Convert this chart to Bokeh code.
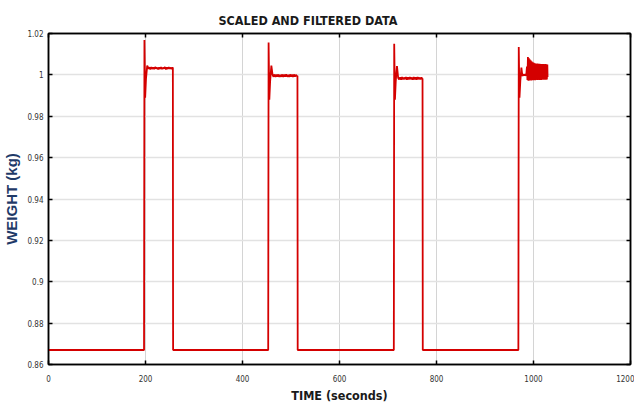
from bokeh.plotting import figure
from bokeh.models import (LinearAxis, FixedTicker, CustomJSTickFormatter, Range1d, Title)
from bokeh.embed import file_html
from bokeh.resources import INLINE

# ---------------- data ----------------
x_ticks = [0, 200, 400, 600, 800, 1000, 1200]
y_ticks = [0.86, 0.88, 0.90, 0.92, 0.94, 0.96, 0.98, 1.00, 1.02]

baseline_t = [0.0]
baseline_w = [0.867]

pulse1_t = [197.0, 197.8, 199.3, 201.0, 203.5, 206, 208, 210, 212, 214, 216, 218, 220, 222,
            224, 226, 228, 230, 232, 234, 236, 238, 240, 242, 244, 246, 248, 250, 252, 254,
            255.5, 256.4, 256.9]
pulse1_w = [0.867, 1.0168, 0.989, 0.998, 1.0045, 1.0030, 1.0036, 1.0027, 1.0037, 1.0029,
            1.0036, 1.0028, 1.0038, 1.0030, 1.0035, 1.0027, 1.0036, 1.0029, 1.0037, 1.0028,
            1.0035, 1.0030, 1.0038, 1.0027, 1.0036, 1.0029, 1.0037, 1.0030, 1.0035, 1.0028,
            1.0036, 1.0033, 0.867]

pulse2_t = [453.0, 453.8, 455.3, 457.0, 459.5, 462, 464, 466, 468, 470, 472, 474, 476, 478,
            480, 482, 484, 486, 488, 490, 492, 494, 496, 498, 500, 502, 504, 506, 508, 510,
            512, 513.3, 513.8]
pulse2_w = [0.867, 1.0156, 0.988, 0.997, 1.0045, 1.0000, 0.9991, 1.0002, 0.9990, 1.0001,
            0.9992, 1.0002, 0.9990, 1.0000, 0.9991, 1.0002, 0.9990, 1.0001, 0.9992, 1.0002,
            0.9991, 1.0000, 0.9990, 1.0002, 0.9991, 1.0001, 0.9990, 1.0002, 0.9992, 1.0000,
            0.9993, 0.9996, 0.867]

pulse3_t = [712.0, 712.8, 714.3, 716.0, 718.5, 721, 723, 725, 727, 729, 731, 733, 735, 737,
            739, 741, 743, 745, 747, 749, 751, 753, 755, 757, 759, 761, 763, 765, 767, 769,
            770.5, 771.2, 771.7]
pulse3_w = [0.867, 1.0151, 0.988, 0.997, 1.0043, 0.9985, 0.9978, 0.9988, 0.9977, 0.9989,
            0.9978, 0.9987, 0.9979, 0.9989, 0.9977, 0.9988, 0.9978, 0.9989, 0.9979, 0.9987,
            0.9977, 0.9989, 0.9978, 0.9988, 0.9977, 0.9989, 0.9979, 0.9987, 0.9978, 0.9988,
            0.9981, 0.9983, 0.867]

pulse4_t = [968.8, 969.6, 971.1, 972.8, 975.0, 977, 979, 981, 983, 985, 986.5, 987.5, 988.5,
            989.5, 990.5, 991.5, 992.5, 993.5, 994.5, 995.5, 996.5, 997.5, 998.5, 999.5,
            1000.5, 1001.5, 1002.5, 1003.5, 1004.5, 1005.5, 1006.5, 1007.5, 1008.5, 1009.5,
            1010.5, 1011.5, 1012.5, 1013.5, 1014.5, 1015.5, 1016.5, 1017.5, 1018.5, 1019.5,
            1020.5, 1021.5, 1022.5, 1023.5, 1024.5, 1025.5, 1026.5, 1027.5, 1028.5, 1029]
pulse4_w = [0.867, 1.0135, 0.989, 0.997, 1.0035, 0.9995, 1.0002, 0.9997, 1.0003, 0.9996,
            1.0040, 0.9975, 1.0086, 0.9972, 1.0080, 0.9973, 1.0074, 0.9974, 1.0069, 0.9973,
            1.0065, 0.9975, 1.0061, 0.9974, 1.0058, 0.9975, 1.0056, 0.9974, 1.0055, 0.9976,
            1.0054, 0.9975, 1.0055, 0.9976, 1.0053, 0.9975, 1.0054, 0.9976, 1.0052, 0.9975,
            1.0053, 0.9977, 1.0052, 0.9976, 1.0053, 0.9977, 1.0051, 0.9976, 1.0052, 0.9977,
            1.0051, 0.9978, 1.0050, 0.9990]

time_s = baseline_t + pulse1_t + pulse2_t + pulse3_t + pulse4_t
weight_kg = baseline_w + pulse1_w + pulse2_w + pulse3_w + pulse4_w

# ---------------- figure ----------------
FONT = "Liberation Sans"
NARROW = "DejaVu Sans Condensed"
p = figure(width=634, height=405, output_backend="svg", toolbar_location=None,
           x_range=Range1d(0, 1200), y_range=Range1d(0.86, 1.02),
           min_border_left=48, min_border_right=4, min_border_top=33, min_border_bottom=41,
           background_fill_color="white", border_fill_color="white")

p.title = None

p.outline_line_color = "black"
p.outline_line_width = 1.5

p.xgrid.ticker = FixedTicker(ticks=x_ticks)
p.ygrid.ticker = FixedTicker(ticks=y_ticks)
p.xgrid.grid_line_color = "#d4d4d4"
p.ygrid.grid_line_color = "#e2e2e2"
p.xgrid.grid_line_width = 1
p.ygrid.grid_line_width = 1.5

fmt = CustomJSTickFormatter(code="return String(parseFloat(tick.toFixed(2)));")
blank = CustomJSTickFormatter(code="return '';")

for ax in [p.xaxis[0], p.yaxis[0]]:
    ax.major_tick_in = 4
    ax.major_tick_out = 0
    ax.minor_tick_line_color = None
    ax.axis_line_color = "black"
    ax.axis_line_width = 1.5
    ax.major_tick_line_color = "black"
    ax.major_tick_line_width = 1.5
    ax.major_label_text_font = NARROW
    ax.major_label_text_font_size = "8px"
    ax.major_label_text_color = "#333333"
    ax.axis_label_text_font_style = "bold"

p.xaxis[0].ticker = FixedTicker(ticks=x_ticks)
p.xaxis[0].formatter = CustomJSTickFormatter(code="return String(tick);")
p.xaxis[0].axis_label = "TIME (seconds)"
p.xaxis[0].axis_label_text_font = NARROW
p.xaxis[0].axis_label_text_font_size = "12.5px"
p.xaxis[0].axis_label_text_color = "#1a1a1a"
p.xaxis[0].axis_label_standoff = 3
p.xaxis[0].major_label_standoff = 10

p.yaxis[0].ticker = FixedTicker(ticks=y_ticks)
p.yaxis[0].formatter = fmt
p.yaxis[0].axis_label = "WEIGHT (kg)"
p.yaxis[0].axis_label_text_font = FONT
p.yaxis[0].axis_label_text_font_size = "15px"
p.yaxis[0].axis_label_text_color = "#1f3a68"
p.yaxis[0].axis_label_standoff = 4
p.yaxis[0].major_label_standoff = 5

# mirrored ticks on top and right
top = LinearAxis(ticker=FixedTicker(ticks=x_ticks), formatter=blank, major_tick_in=4,
                 major_tick_out=0, minor_tick_line_color=None, major_label_standoff=0,
                 major_tick_line_width=1.5, axis_line_color="black", axis_line_width=1.5)
right = LinearAxis(ticker=FixedTicker(ticks=y_ticks), formatter=blank, major_tick_in=4,
                   major_tick_out=0, minor_tick_line_color=None, major_label_standoff=0,
                   major_tick_line_width=1.5, axis_line_color="black", axis_line_width=1.5)
p.add_layout(top, "above")
p.add_layout(right, "right")

p.add_layout(Title(text="SCALED AND FILTERED DATA", align="left", offset=170,
                   text_font=NARROW, text_font_size="12.5px", text_font_style="bold",
                   text_color="#1a1a1a", standoff=12), "above")

p.line(time_s, weight_kg, line_color="#d40000", line_width=1.8)

open("out.html", "w").write(file_html(p, INLINE))
